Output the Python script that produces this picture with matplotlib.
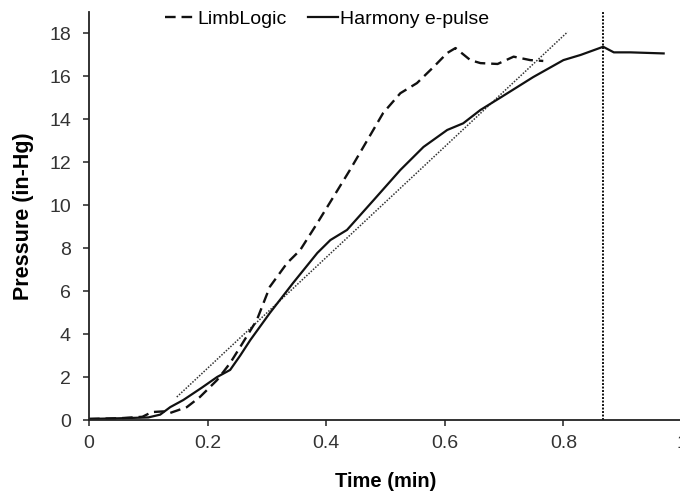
import matplotlib.pyplot as plt
import numpy as np

plt.rcParams['font.family'] = ['Liberation Sans', 'DejaVu Sans']

# Harmony e-pulse (solid)
harmony_t = [0.0, 0.05, 0.10, 0.12, 0.137, 0.159, 0.19, 0.216, 0.238, 0.255, 0.272,
             0.305, 0.344, 0.385, 0.407, 0.435, 0.48, 0.525, 0.564, 0.604, 0.631,
             0.66, 0.694, 0.749, 0.80, 0.829, 0.867, 0.885, 0.913, 0.969]
harmony_p = [0.05, 0.08, 0.12, 0.25, 0.6, 0.93, 1.5, 2.0, 2.33, 3.0, 3.72,
             4.98, 6.37, 7.77, 8.37, 8.84, 10.23, 11.63, 12.7, 13.49, 13.8,
             14.42, 15.0, 15.95, 16.74, 16.98, 17.36, 17.1, 17.1, 17.05]

# LimbLogic (dashed)
limb_t = [0.0, 0.05, 0.09, 0.106, 0.125, 0.137, 0.165, 0.187, 0.216, 0.238, 0.255,
          0.283, 0.305, 0.334, 0.356, 0.385, 0.412, 0.44, 0.469, 0.496, 0.525,
          0.553, 0.581, 0.604, 0.618, 0.643, 0.66, 0.689, 0.716, 0.744, 0.766]
limb_p = [0.05, 0.08, 0.15, 0.37, 0.4, 0.33, 0.6, 1.07, 1.86, 2.65, 3.4,
          4.65, 6.2, 7.3, 7.9, 9.16, 10.37, 11.63, 13.0, 14.28, 15.2,
          15.67, 16.42, 17.07, 17.3, 16.74, 16.6, 16.56, 16.9, 16.74, 16.7]

# linear fit guide (dotted) and end marker
fit_t = [0.148, 0.807]
fit_p = [1.07, 18.05]
end_time = 0.867

fig = plt.figure(figsize=(6.8, 4.96), dpi=100)
ax = fig.add_axes([0.1309, 0.1532, 0.8721, 0.8236])

ax.plot(fit_t, fit_p, color='#333333', linestyle=(0, (1, 1)), linewidth=1.1)
ax.plot(limb_t, limb_p, color='#111111', linestyle=(0, (4.5, 2.5)), linewidth=1.7,
        label='LimbLogic')
ax.plot(harmony_t, harmony_p, color='#111111', linewidth=1.6, label='Harmony e-pulse')
ax.axvline(end_time, color='#111111', linestyle=(0, (1, 0.8)), linewidth=1.4)

ax.set_xlim(0, 1.0)
ax.set_ylim(0, 19)
ax.set_xticks(np.arange(0, 1.01, 0.2))
ax.set_xticklabels(['0', '0.2', '0.4', '0.6', '0.8', '1'])
ax.set_yticks(np.arange(0, 19, 2))

for s in ['top', 'right']:
    ax.spines[s].set_visible(False)
for s in ['left', 'bottom']:
    ax.spines[s].set_linewidth(1.3)
    ax.spines[s].set_color('#222222')

ax.tick_params(direction='out', length=4, width=1.1, labelsize=14,
               labelcolor='#333333', color='#222222')
ax.tick_params(axis='x', pad=7)
ax.tick_params(axis='y', pad=9)

ax.set_xlabel('Time (min)', fontsize=14.5, fontweight='bold', labelpad=14)
ax.set_ylabel('Pressure (in-Hg)', fontsize=15.5, fontweight='bold', labelpad=11)

ax.legend(loc='upper left', bbox_to_anchor=(0.115, 1.022), ncol=2, frameon=False,
          fontsize=14, handlelength=1.55, handletextpad=0.1, columnspacing=1.1,
          borderaxespad=0)

fig.savefig('out.png', dpi=100)
